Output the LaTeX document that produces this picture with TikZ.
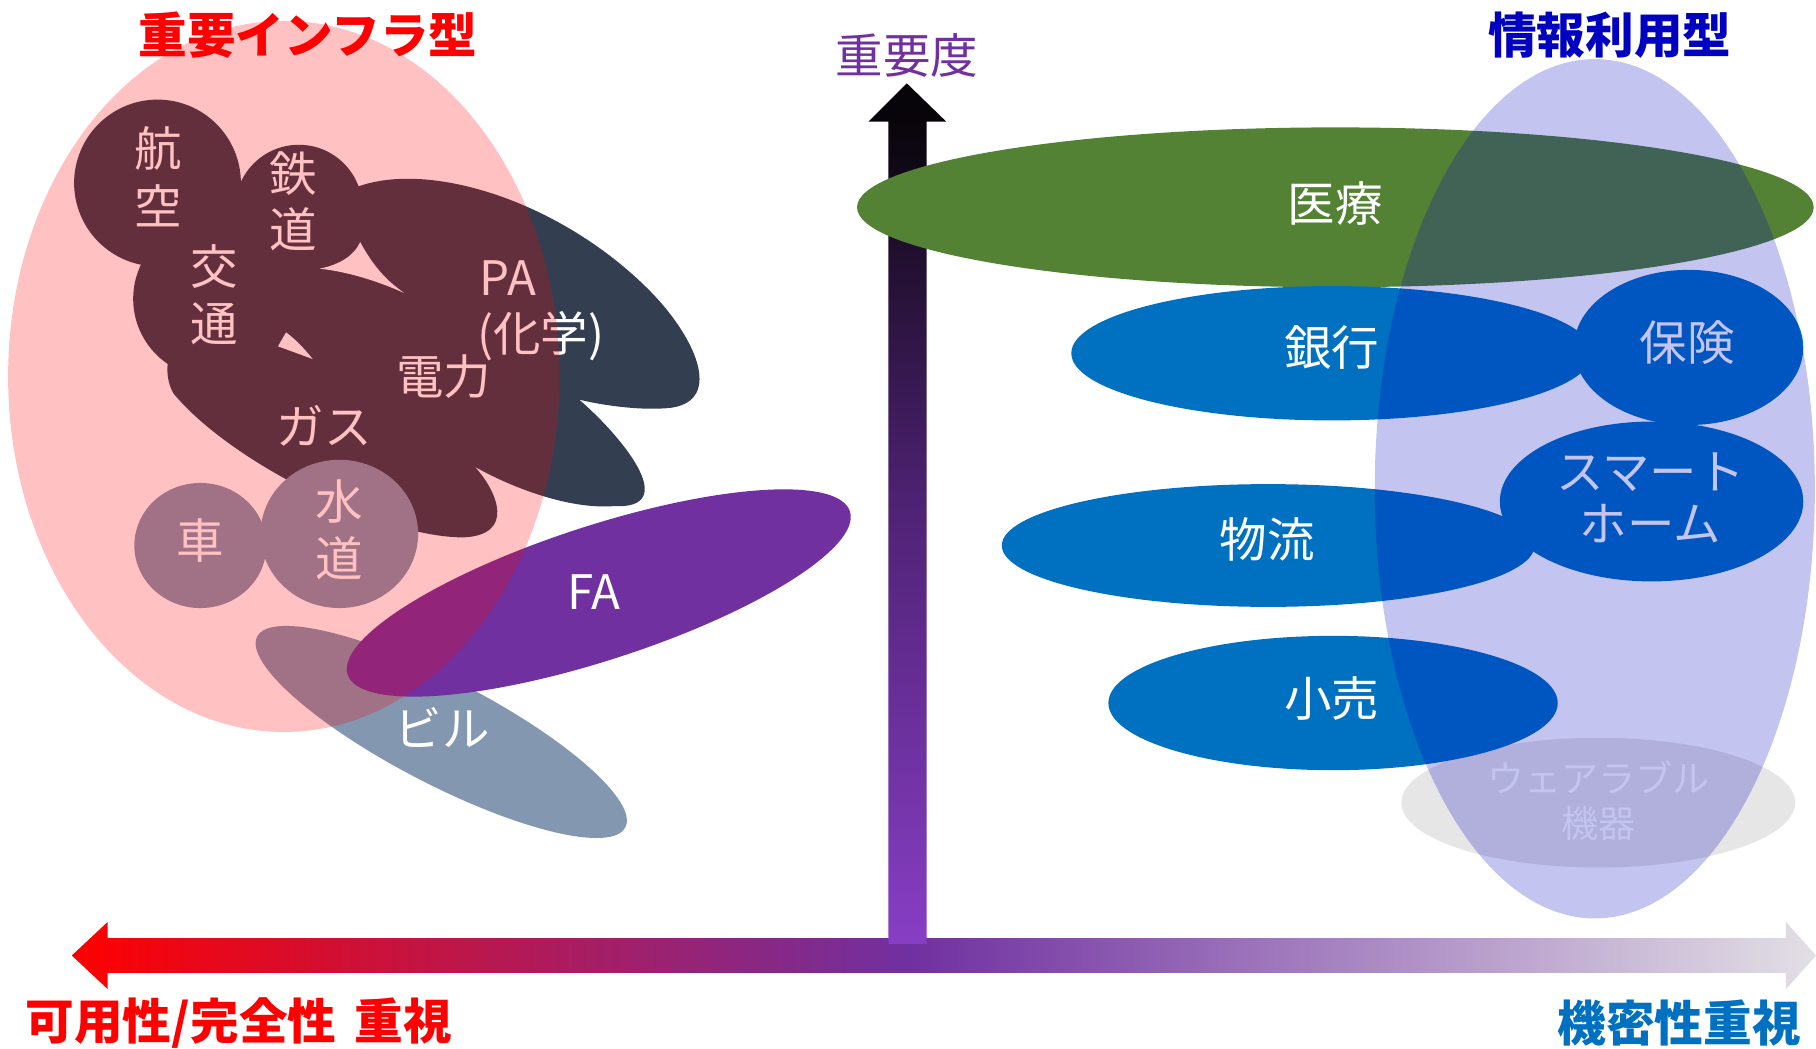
\documentclass[tikz,border=0pt]{standalone}
\usepackage{fontspec}
\newfontfamily\cjk{Noto Sans CJK JP}
\definecolor{navy}{RGB}{51,63,80}
\definecolor{greyblue}{RGB}{132,151,176}
\definecolor{fapurple}{RGB}{112,48,160}
\definecolor{medgreen}{RGB}{84,130,53}
\definecolor{midblue}{RGB}{0,112,192}
\definecolor{wgrey}{RGB}{231,230,230}
\definecolor{ovblue}{RGB}{0,0,192}
\definecolor{hred}{RGB}{255,0,0}
\definecolor{hpurple}{RGB}{112,48,160}
\definecolor{hgrey}{RGB}{226,223,229}
\definecolor{vpurple}{RGB}{135,62,196}
\definecolor{vmid}{RGB}{80,35,118}
\definecolor{vblack}{RGB}{8,5,10}
\pgfdeclarehorizontalshading{harrowshade}{100bp}{color(0bp)=(hred); color(25bp)=(hred); color(48.97bp)=(hpurple); color(75bp)=(hgrey); color(100bp)=(hgrey)}
\pgfdeclareverticalshading{varrowshade}{100bp}{color(0bp)=(vpurple); color(25bp)=(vpurple); color(50bp)=(vmid); color(72.8bp)=(vblack); color(100bp)=(vblack)}
\begin{document}
\begin{tikzpicture}[x=1pt,y=-1pt,
  lbl/.style={text=white, font=\cjk\fontsize{41}{41}\selectfont, inner sep=0pt},
  smalllbl/.style={text=white, font=\cjk\fontsize{32}{32}\selectfont, inner sep=0pt},
  ttl/.style={font=\cjk\bfseries\fontsize{42}{42}\selectfont, inner sep=0pt},
]
\useasboundingbox[fill=white] (0,0) rectangle (1568,905);

% axes
\shade[shading=harrowshade] (62,825) -- (93,796) -- (93,810) -- (1542,810) -- (1542,796) -- (1568,825) -- (1542,854) -- (1542,840) -- (93,840) -- (93,854) -- cycle;
\shade[shading=varrowshade] (783,72) -- (817,105) -- (800,105) -- (800,815) -- (767,815) -- (767,105) -- (750,105) -- cycle;

% left cluster
\fill[navy] (136,158) circle [radius=72];
\fill[navy] (258,180) circle [radius=55];
\fill[navy] (183,258) circle [radius=68];
\fill[navy] (205,200) circle [radius=32];
\fill[navy] (300,165) .. controls (360,135) and (480,170) .. (560,250)
  .. controls (600,290) and (625,345) .. (580,352)
  .. controls (555,355) and (520,350) .. (500,345)
  .. controls (535,375) and (590,440) .. (530,437)
  .. controls (490,440) and (440,420) .. (410,403)
  .. controls (430,425) and (445,462) .. (400,464)
  .. controls (330,464) and (200,400) .. (150,340)
  .. controls (120,290) and (220,180) .. (300,165) -- cycle;
\fill[white] (276,232) .. controls (295,228) and (306,220) .. (311,209)
  .. controls (325,235) and (338,245) .. (349,253)
  .. controls (320,240) and (295,234) .. (276,232) -- cycle;
\fill[white] (247,287) -- (240,299) -- (270,310) .. controls (262,300) and (254,292) .. (247,287) -- cycle;

\fill[greyblue] (173,471) ellipse [x radius=57, y radius=54];
\fill[greyblue] (293,461) ellipse [x radius=68, y radius=64];
\fill[greyblue, rotate around={-27.4:(381,632)}] (381,632) ellipse [x radius=179, y radius=45];
\fill[fapurple, rotate around={18:(517,512)}] (517,512) ellipse [x radius=228, y radius=58];

\node[lbl] (kou) at (137,128) {航};
\node[lbl] (kuu) at (137,178) {空};
\node[lbl] (tetsu) at (253,150) {鉄};
\node[lbl] (dou1) at (253,198) {道};
\node[lbl] (kou2) at (185,230) {交};
\node[lbl] (tsuu) at (185,280) {通};
\node[lbl, anchor=west] (pa) at (414,240) {PA};
\node[lbl, anchor=west] (kagaku) at (412,290) {(化学)};
\node[lbl] (denryoku) at (383,325) {電力};
\node[lbl] (gas) at (280,368) {ガス};
\node[lbl] (kuruma) at (173,467) {車};
\node[lbl] (sui) at (293,433) {水};
\node[lbl] (dou2) at (293,482) {道};
\node[lbl] (fa) at (513,511) {FA};
\node[lbl] (biru) at (382,628) {ビル};

\fill[red, fill opacity=0.245] (245,325) ellipse [x radius=238, y radius=307];

% right cluster
\fill[medgreen] (1153,179) ellipse [x radius=413, y radius=69];
\fill[midblue] (1150,305) ellipse [x radius=225, y radius=58];
\fill[midblue] (1458,300) ellipse [x radius=99, y radius=67];
\fill[midblue] (1426,433) ellipse [x radius=131, y radius=69];
\fill[midblue] (1095,471) ellipse [x radius=230, y radius=53];
\fill[wgrey] (1380,693) ellipse [x radius=170, y radius=56];
\fill[midblue] (1151,607) ellipse [x radius=194, y radius=58];

\node[lbl] (iryou) at (1153,176) {医療};
\node[lbl] (ginkou) at (1150,300) {銀行};
\node[lbl] (hoken) at (1457,296) {保険};
\node[lbl] (smart) at (1425,408) {スマート};
\node[lbl] (home) at (1425,452) {ホーム};
\node[lbl] (butsuryu) at (1094,466) {物流};
\node[lbl] (kouri) at (1150,603) {小売};
\node[smalllbl] (wear) at (1380,671) {ウェアラブル};
\node[smalllbl] (kiki) at (1380,711) {機器};

\fill[ovblue, fill opacity=0.23] (1377,422) ellipse [x radius=190, y radius=371];

% titles
\node[ttl, text=red] (tInfra) at (266,30) {重要インフラ型};
\node[ttl, text=ovblue] (tInfo) at (1390,30) {情報利用型};
\node[text=fapurple, font=\cjk\fontsize{41}{41}\selectfont, inner sep=0pt] (tImp) at (783,48) {重要度};
\node[ttl, text=red, anchor=west] (tAvail) at (22,883) {可用性/完全性\hspace{16pt}重視};
\node[ttl, text=midblue, anchor=east] (tConf) at (1555,883) {機密性重視};
\end{tikzpicture}
\end{document}
